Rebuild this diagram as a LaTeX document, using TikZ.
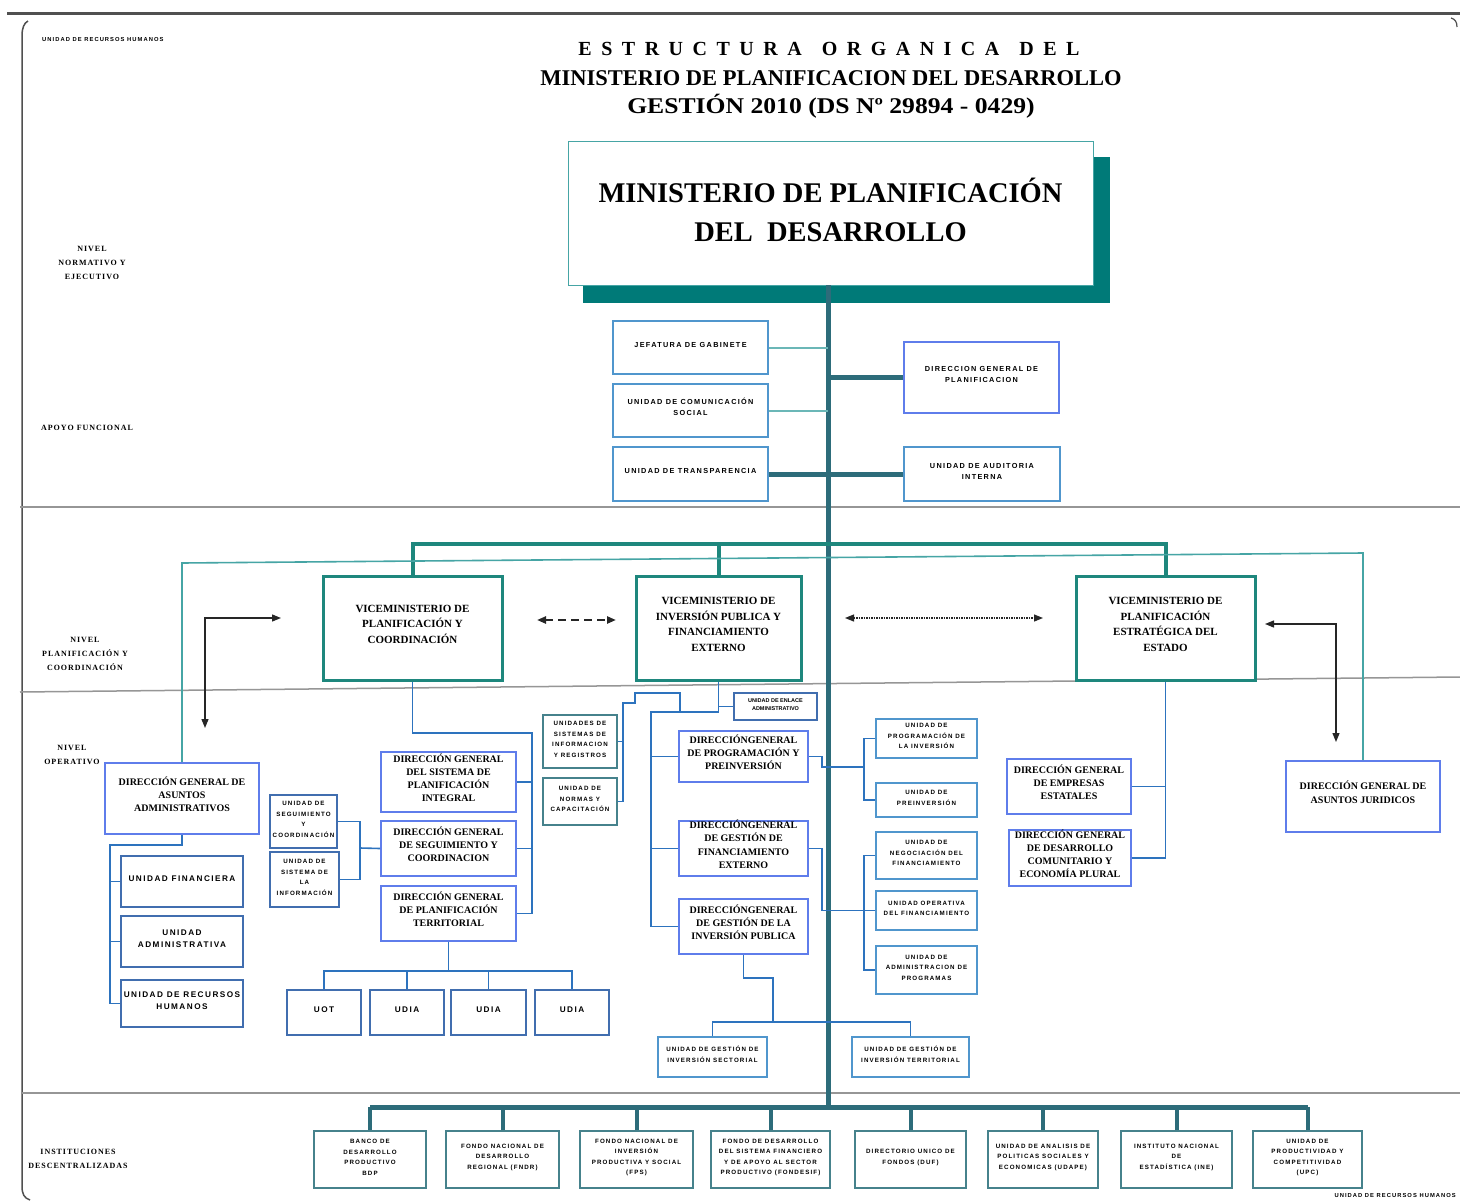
\documentclass[tikz,border=0pt]{standalone}
\usepackage{fontspec}
\usepackage{graphicx}
\setmainfont{Liberation Serif}
\newfontfamily\lsans{Liberation Sans}
\newfontfamily\lsansw{Liberation Sans}[LetterSpace=18]
\newfontfamily\lserw{Liberation Serif}[LetterSpace=12]
\usetikzlibrary{fit,arrows.meta}
\definecolor{trunkc}{RGB}{45,108,122}
\definecolor{shadowt}{RGB}{0,122,120}
\definecolor{viceb}{RGB}{30,135,125}
\definecolor{thintealc}{RGB}{70,165,165}
\definecolor{dgblue}{RGB}{95,125,235}
\definecolor{unitb}{RGB}{65,110,175}
\definecolor{apoyob}{RGB}{80,150,205}
\definecolor{connc}{RGB}{45,115,190}
\definecolor{instb}{RGB}{70,130,140}
\definecolor{framec}{RGB}{80,80,80}
\definecolor{divc}{RGB}{150,150,150}
\newcommand\apf{\lsansw\bfseries\fontsize{7.3}{11}\selectfont}
\newcommand\vicef{\bfseries\fontsize{11}{15.5}\selectfont}
\newcommand\dgf{\bfseries\fontsize{10}{13.3}\selectfont}
\newcommand\unf{\lsansw\bfseries\fontsize{6.2}{10.5}\selectfont}
\newcommand\unbf{\lsansw\bfseries\fontsize{8.2}{12.5}\selectfont}
\newcommand\lblf{\lserw\bfseries\fontsize{8}{14}\selectfont}
\newcommand\mybox[7]{\node[#6, fit={(#2,#3) (#4,#5)}] (#1) {#7};}
\tikzset{
 bx/.style={draw, fill=white, inner sep=0pt, align=center},
 apoyo/.style={bx, draw=apoyob, line width=2.2pt, font=\apf},
 apoyob/.style={bx, draw=dgblue, line width=2pt, font=\apf},
 vice/.style={bx, draw=viceb, line width=3pt, font=\vicef},
 dgb/.style={bx, draw=dgblue, line width=1.8pt, font=\dgf},
 unitl/.style={bx, draw=unitb, line width=1.6pt, font=\unbf},
 unit/.style={bx, draw=unitb, line width=1.5pt, font=\unf},
 unitr/.style={bx, draw=apoyob, line width=2pt, font=\unf},
 unitg/.style={bx, draw=instb, line width=2pt, font=\unf},
 inst/.style={bx, draw=instb, line width=2pt, font=\unf},
 conn/.style={draw=connc, line width=1.6pt},
 trunkl/.style={draw=trunkc, line width=5pt},
 vbar/.style={draw=viceb, line width=4pt},
 tteal/.style={draw=thintealc, line width=1.6pt},
 lteal/.style={draw=thintealc!80!white, line width=2pt},
 divl/.style={draw=divc, line width=1.5pt},
 blk/.style={draw=black!85, line width=1.3pt, {Triangle[length=9pt,width=7pt]}-{Triangle[length=9pt,width=7pt]}},
 lbl/.style={align=center, inner sep=0pt, font=\lblf},
 rhl/.style={inner sep=0pt, font=\lsansw\bfseries\fontsize{5.8}{7}\selectfont}
}
\begin{document}
\begin{tikzpicture}[x=1pt,y=-1pt]
\useasboundingbox (0,0) rectangle (1460,1202);
\fill[white] (0,0) rectangle (1460,1202);
% frame
\draw[framec, line width=3pt] (7,13) -- (1460,13);
\draw[framec, line width=1.5pt] (28,21) .. controls (24,23) and (22,28) .. (22,36) -- (22,1186) .. controls (22,1194) and (24,1198) .. (30,1200);
\draw[framec, line width=1.2pt] (1451,18) .. controls (1455,19) and (1457,22) .. (1457,27);
\draw[divl] (20,507) -- (1460,507);
\draw[divl] (20,692) -- (1460,677);
\draw[divl] (22,1093) -- (1460,1093);
% small labels
\node[rhl, anchor=west] (rh1) at (42,40) {UNIDAD DE RECURSOS HUMANOS};
\node[rhl, anchor=east] (rh2) at (1456,1195) {UNIDAD DE RECURSOS HUMANOS};
\node[lbl] (l1) at (92,263) {NIVEL\\NORMATIVO Y\\EJECUTIVO};
\node[lbl] (l2) at (87,428) {APOYO FUNCIONAL};
\node[lbl] (l3) at (85,654) {NIVEL\\PLANIFICACIÓN Y\\COORDINACIÓN};
\node[lbl] (l4) at (72,755) {NIVEL\\OPERATIVO};
\node[lbl] (l5) at (78,1159) {INSTITUCIONES\\DESCENTRALIZADAS};
% title
\node[inner sep=0pt, font=\bfseries\fontsize{20}{22}\selectfont] (t1) at (829,49) {\spaceskip=9.5pt E S T R U C T U R A\hspace{20pt}O R G A N I C A\hspace{20pt}D E L};
\node[inner sep=0pt, font=\bfseries\fontsize{22.5}{24}\selectfont] (t2) at (831,78) {MINISTERIO DE PLANIFICACION DEL DESARROLLO};
\node[inner sep=0pt, font=\bfseries\fontsize{22.5}{24}\selectfont] (t3) at (831,106) {\scalebox{1.14}[1]{GESTIÓN 2010 (DS Nº 29894 - 0429)}};
% main box
\fill[shadowt] (583,157) rectangle (1110,303);
\mybox{main}{568}{141}{1093}{285}{bx, draw=thintealc, line width=1pt}{}
\node[align=center, inner sep=0pt, font=\bfseries\fontsize{28.5}{39}\selectfont] (maintxt) at ([yshift=3pt]main.center) {MINISTERIO DE PLANIFICACIÓN\\DEL\ \ DESARROLLO};
% trunk
\coordinate (ttop) at (828,285);
\coordinate (tbot) at (828,1107);
\draw[trunkl] (ttop) -- (tbot);
% apoyo
\mybox{jef}{613}{321}{768}{374}{apoyo}{JEFATURA DE GABINETE}
\mybox{com}{613}{384}{768}{437}{apoyo}{UNIDAD DE COMUNICACIÓN\\SOCIAL}
\mybox{tra}{613}{447}{768}{501}{apoyo}{UNIDAD DE TRANSPARENCIA}
\mybox{dgp}{904}{342}{1059}{413}{apoyob}{DIRECCION GENERAL DE\\PLANIFICACION}
\mybox{aud}{904}{447}{1060}{501}{apoyo}{UNIDAD DE AUDITORIA\\INTERNA}
\draw[lteal] (jef.east) -- (jef.east -| ttop);
\draw[lteal] (com.east) -- (com.east -| ttop);
\draw[trunkl] (tra.east) -- (tra.east -| ttop);
\draw[trunkl] (dgp.west) -- (dgp.west -| ttop);
\draw[trunkl] (aud.west) -- (aud.west -| ttop);
% viceministerios
\mybox{vpc}{323}{576}{502}{680}{vice}{VICEMINISTERIO DE\\PLANIFICACIÓN Y\\COORDINACIÓN}
\mybox{vip}{636}{576}{801}{680}{vice}{VICEMINISTERIO DE\\INVERSIÓN PUBLICA Y\\FINANCIAMIENTO\\EXTERNO}
\mybox{vpe}{1076}{576}{1255}{680}{vice}{VICEMINISTERIO DE\\PLANIFICACIÓN\\ESTRATÉGICA DEL\\ESTADO}
\coordinate (vb) at (828,544);
\draw[vbar] (vpc.north) |- (vb -| vpe.north) -- (vpe.north);
\draw[vbar] (vip.north) -- (vip.north |- vb);
% arrows
\coordinate (la1) at (205,728); \coordinate (la2) at (281,618);
\draw[blk] (la1) |- (la2);
\coordinate (ra1) at (1265,624); \coordinate (ra2) at (1336,742);
\draw[blk] (ra1) -| (ra2);
\coordinate (da1) at (537,620); \coordinate (da2) at (616,620);
\draw[blk, line width=2.4pt, dash pattern=on 8pt off 5pt] (da1) -- (da2);
\coordinate (do1) at (845,618); \coordinate (do2) at (1043,618);
\draw[blk, line width=1.2pt, dash pattern=on 1.5pt off 1pt] (do1) -- (do2);
% left operative
\mybox{dgaa}{105}{763}{259}{834}{dgb}{DIRECCIÓN GENERAL DE\\ASUNTOS\\ADMINISTRATIVOS}
\mybox{ufin}{121}{856}{243}{907}{unitl}{UNIDAD FINANCIERA}
\mybox{uadm}{121}{916}{243}{967}{unitl}{UNIDAD\\ADMINISTRATIVA}
\mybox{urh}{121}{980}{243}{1027}{unitl}{UNIDAD DE RECURSOS\\HUMANOS}
\mybox{dgaj}{1286}{761}{1440}{832}{dgb}{DIRECCIÓN GENERAL DE\\ASUNTOS JURIDICOS}
\draw[tteal] (dgaa.north) -- (dgaa.north |- 0,563) -- (dgaj.north |- 0,553) -- (dgaj.north);
\coordinate (ab) at (110,845);
\draw[conn] (dgaa.south) |- (ab) |- (urh.west);
\draw[conn] (ufin.west) -- (ufin.west -| ab);
\draw[conn] (uadm.west) -- (uadm.west -| ab);
% VPC children
\mybox{useg}{270}{795}{337}{848}{unit}{UNIDAD DE\\SEGUIMIENTO\\Y\\COORDINACIÓN}
\mybox{usis}{270}{852}{339}{907}{unit}{UNIDAD DE\\SISTEMA DE\\LA\\INFORMACIÓN}
\mybox{dgspi}{381}{752}{516}{812}{dgb}{DIRECCIÓN GENERAL\\DEL SISTEMA DE\\PLANIFICACIÓN\\INTEGRAL}
\mybox{dgsc}{381}{821}{516}{876}{dgb}{DIRECCIÓN GENERAL\\DE SEGUIMIENTO Y\\COORDINACION}
\mybox{dgpt}{381}{886}{516}{941}{dgb}{DIRECCIÓN GENERAL\\DE PLANIFICACIÓN\\TERRITORIAL}
\mybox{uot}{287}{990}{361}{1035}{unitl}{UOT}
\mybox{udia1}{370}{990}{444}{1035}{unitl}{UDIA}
\mybox{udia2}{451}{990}{526}{1035}{unitl}{UDIA}
\mybox{udia3}{535}{990}{609}{1035}{unitl}{UDIA}
\coordinate (vpcb) at (532,733);
\draw[conn] (vpc.south) |- (vpcb) |- (dgpt.east);
\draw[conn] (dgspi.east) -- (dgspi.east -| vpcb);
\draw[conn] (dgsc.east) -- (dgsc.east -| vpcb);
\coordinate (sb) at (360,848);
\draw[conn] (useg.east) -| (sb) |- (usis.east);
\draw[conn] (sb) -- (dgsc.west);
\coordinate (tb) at (448,971);
\draw[conn] (dgpt.south) -- (dgpt.south |- tb);
\draw[conn] (uot.north) |- (tb) -| (udia3.north);
\draw[conn] (udia1.north) -- (udia1.north |- tb);
\draw[conn] (udia2.north) -- (udia2.north |- tb);
% VIPFE children
\mybox{usir}{543}{715}{617}{768}{unitg}{UNIDADES DE\\SISTEMAS DE\\INFORMACION\\Y REGISTROS}
\mybox{unc}{543}{778}{617}{825}{unitg}{UNIDAD DE\\NORMAS Y\\CAPACITACIÓN}
\mybox{uea}{734}{693}{817}{720}{unit, font=\lsans\bfseries\fontsize{5.5}{8}\selectfont}{UNIDAD DE ENLACE\\ADMINISTRATIVO}
\mybox{dgpp}{679}{731}{808}{782}{dgb}{DIRECCIÓNGENERAL\\DE PROGRAMACIÓN Y\\PREINVERSIÓN}
\mybox{dgfe}{679}{821}{808}{876}{dgb}{DIRECCIÓNGENERAL\\DE GESTIÓN DE\\FINANCIAMIENTO\\EXTERNO}
\mybox{dgip}{679}{899}{808}{954}{dgb}{DIRECCIÓNGENERAL\\DE GESTIÓN DE LA\\INVERSIÓN PUBLICA}
\mybox{ugs}{658}{1037}{767}{1077}{unitr}{UNIDAD DE GESTIÓN DE\\INVERSIÓN SECTORIAL}
\mybox{ugt}{852}{1037}{969}{1077}{unitr}{UNIDAD DE GESTIÓN DE\\INVERSIÓN TERRITORIAL}
\mybox{upi}{876}{719}{977}{758}{unitr}{UNIDAD DE\\PROGRAMACIÓN DE\\LA INVERSIÓN}
\mybox{upre}{876}{783}{977}{817}{unitr}{UNIDAD DE\\PREINVERSIÓN}
\mybox{unfi}{876}{832}{977}{879}{unitr}{UNIDAD DE\\NEGOCIACIÓN DEL\\FINANCIAMIENTO}
\mybox{uof}{876}{891}{977}{930}{unitr}{UNIDAD OPERATIVA\\DEL FINANCIAMIENTO}
\mybox{uap}{876}{946}{977}{994}{unitr}{UNIDAD DE\\ADMINISTRACION DE\\PROGRAMAS}
\coordinate (vj) at (651,712);
\draw[conn] (vip.south) |- (vj) |- (dgip.west);
\draw[conn] (dgpp.west) -- (dgpp.west -| vj);
\draw[conn] (dgfe.west) -- (dgfe.west -| vj);
\draw[conn] (uea.west -| vip.south) -- (uea.west);
\coordinate (vk) at (680,712);
\coordinate (uj) at (623,703);
\draw[conn] (vk) -- (680,693) -- (635,693) -- (635,703) -- (uj) |- (unc.east);
\draw[conn] (usir.east) -- (usir.east -| uj);
\coordinate (gj) at (773,1022);
\draw[conn] (dgip.south) -- (dgip.south |- 0,978) -- (773,978) -- (gj);
\draw[conn] (ugs.north) |- (gj) -| (ugt.north);
\coordinate (rb1) at (864,767);
\draw[conn] (dgpp.east) -- (822,756.5) |- (rb1);
\draw[conn] (upi.west) -| (rb1) |- (upre.west);
\coordinate (rb2) at (864,910.5);
\draw[conn] (dgfe.east) -- (822,848.5) |- (rb2);
\draw[conn] (unfi.west) -| (rb2) |- (uap.west);
\draw[conn] (uof.west) -- (rb2);
% VPEE children
\mybox{dgee}{1007}{759}{1131}{814}{dgb}{DIRECCIÓN GENERAL\\DE EMPRESAS\\ESTATALES}
\mybox{dgdc}{1009}{830}{1131}{886}{dgb}{DIRECCIÓN GENERAL\\DE DESARROLLO\\COMUNITARIO Y\\ECONOMÍA PLURAL}
\draw[conn] (vpe.south) |- (dgdc.east);
\draw[conn] (dgee.east) -- (dgee.east -| vpe.south);
% bottom institutions
\mybox{bdp}{314}{1131}{426}{1188}{inst}{BANCO DE\\DESARROLLO\\PRODUCTIVO\\BDP}
\mybox{fndr}{446}{1131}{559}{1188}{inst}{FONDO NACIONAL DE\\DESARROLLO\\REGIONAL (FNDR)}
\mybox{fps}{580}{1131}{693}{1188}{inst}{FONDO NACIONAL DE\\INVERSIÓN\\PRODUCTIVA Y SOCIAL\\(FPS)}
\mybox{fon}{711}{1131}{830}{1188}{inst}{FONDO DE DESARROLLO\\DEL SISTEMA FINANCIERO\\Y DE APOYO AL SECTOR\\PRODUCTIVO (FONDESIF)}
\mybox{duf}{855}{1131}{966}{1188}{inst}{DIRECTORIO UNICO DE\\FONDOS (DUF)}
\mybox{udape}{988}{1131}{1098}{1188}{inst}{UNIDAD DE ANALISIS DE\\POLITICAS SOCIALES Y\\ECONOMICAS (UDAPE)}
\mybox{ine}{1121}{1131}{1232}{1188}{inst}{INSTITUTO NACIONAL\\DE\\ESTADÍSTICA (INE)}
\mybox{upc}{1253}{1131}{1362}{1188}{inst}{UNIDAD DE\\PRODUCTIVIDAD Y\\COMPETITIVIDAD\\(UPC)}
\draw[trunkl] (bdp.north |- tbot) -- (upc.north |- tbot);
\foreach \n in {bdp,fndr,fps,fon,duf,udape,ine,upc}{
  \draw[draw=trunkc, line width=4pt] (\n.north) -- (\n.north |- tbot);
}
\end{tikzpicture}
\end{document}
